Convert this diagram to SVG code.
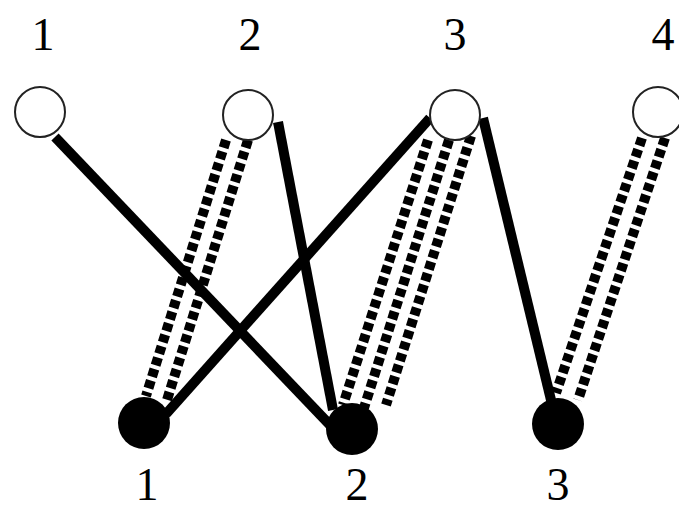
<svg xmlns="http://www.w3.org/2000/svg" width="679" height="511" viewBox="0 0 679 511">
<style>
.lbl{font-family:"Liberation Serif","DejaVu Serif",serif;font-size:46px;fill:#000;text-anchor:middle}
.solid{stroke:#000;stroke-width:10;fill:none}
.dash{stroke:#000;stroke-width:10;fill:none;stroke-dasharray:8 4}
.open{fill:#fff;stroke:#222;stroke-width:2}
.fill{fill:#000;stroke:none}
</style>
<rect width="679" height="511" fill="#fff"/>
<g id="connectors">
<line class="solid" x1="55" y1="137" x2="330" y2="425"/>
<line class="solid" x1="278" y1="122" x2="333" y2="410"/>
<line class="solid" x1="430" y1="118" x2="166" y2="414"/>
<line class="solid" x1="483" y1="118" x2="551" y2="400"/>
<line class="dash" x1="226" y1="140" x2="146" y2="396"/>
<line class="dash" x1="248" y1="140" x2="167" y2="400"/>
<line class="dash" x1="428" y1="140" x2="343" y2="405"/>
<line class="dash" x1="449" y1="140" x2="364" y2="408"/>
<line class="dash" x1="471" y1="136" x2="386" y2="405"/>
<line class="dash" x1="642" y1="138" x2="556" y2="393"/>
<line class="dash" x1="665" y1="138" x2="578" y2="400"/>
</g>
<g id="top1"><circle class="open" cx="40" cy="112" r="25"/><text class="lbl" x="43" y="50">1</text></g>
<g id="top2"><circle class="open" cx="248" cy="115" r="25"/><text class="lbl" x="250" y="50">2</text></g>
<g id="top3"><circle class="open" cx="455" cy="115" r="25"/><text class="lbl" x="455" y="50">3</text></g>
<g id="top4"><circle class="open" cx="658" cy="112" r="25"/><text class="lbl" x="663" y="50">4</text></g>
<g id="bottom1"><circle class="fill" cx="144" cy="423" r="26"/><text class="lbl" x="147" y="500">1</text></g>
<g id="bottom2"><circle class="fill" cx="352" cy="429" r="26"/><text class="lbl" x="357" y="500">2</text></g>
<g id="bottom3"><circle class="fill" cx="558" cy="424" r="26"/><text class="lbl" x="558" y="500">3</text></g>
</svg>
